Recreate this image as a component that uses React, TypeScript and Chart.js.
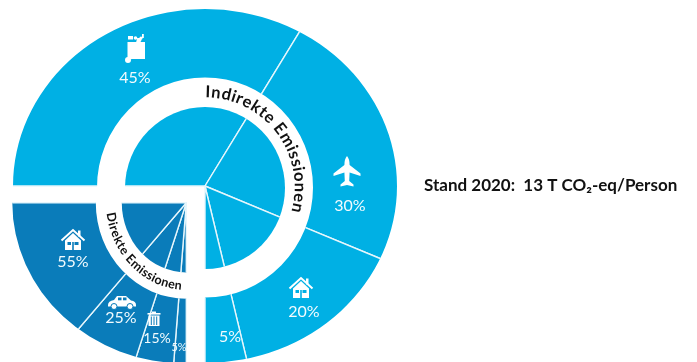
import { useEffect, useRef } from "react";
import { Chart, registerables } from "chart.js";

Chart.register(...registerables);

// Shares per sector, in percent, clockwise from each block's starting edge.
const indirectShares = [45, 30, 20, 5];
const directShares = [5, 15, 25, 55];

const indirectTitle = "Indirekte Emissionen";
const directTitle = "Direkte Emissionen";
const standLabel = "Stand 2020:  13 T CO₂-eq/Person";

const LIGHT_BLUE = "#00B0E4";
const DARK_BLUE = "#0A7CBA";
const SEPARATOR = "#E6F6FC";
const FONT = "Lato, 'Open Sans', sans-serif";

type Oval = { rx: number; ry: number; dy?: number };
type RingClip = { outer: Oval; hole?: Oval };

// Label placement for the percentage captions.
const indirectCaptions = [
  { x: 135, y: 78, size: 16 },
  { x: 350, y: 206, size: 16 },
  { x: 304, y: 312, size: 16 },
  { x: 230, y: 337, size: 16 },
];
const directCaptions = [
  { x: 179, y: 347, size: 11 },
  { x: 157, y: 338, size: 14 },
  { x: 121, y: 318, size: 16 },
  { x: 73, y: 262, size: 16 },
];

// Both rings are drawn wider than needed and trimmed to oval outlines.
function ringClipPlugin(clips: RingClip[]) {
  const oval = (ctx: CanvasRenderingContext2D, x: number, y: number, o: Oval) => {
    ctx.moveTo(x + o.rx, y + (o.dy ?? 0));
    ctx.ellipse(x, y + (o.dy ?? 0), o.rx, o.ry, 0, 0, Math.PI * 2);
  };
  return {
    id: "ringClip",
    beforeDatasetDraw(chart: any, args: any) {
      const arc = chart.getDatasetMeta(args.index).data[0];
      const clip = clips[args.index];
      const ctx = chart.ctx;
      ctx.save();
      ctx.beginPath();
      oval(ctx, arc.x, arc.y, clip.outer);
      if (clip.hole) oval(ctx, arc.x, arc.y, clip.hole);
      ctx.clip("evenodd");
    },
    afterDatasetDraw(chart: any) {
      chart.ctx.restore();
    },
  };
}

function arcText(
  ctx: CanvasRenderingContext2D,
  text: string,
  cx: number,
  cy: number,
  rx: number,
  ry: number,
  fromDeg: number,
  toDeg: number,
  font: string,
) {
  ctx.save();
  ctx.font = font;
  ctx.fillStyle = "#111";
  ctx.textAlign = "center";
  ctx.textBaseline = "middle";
  const widths = [...text].map((c) => ctx.measureText(c).width);
  const total = widths.reduce((a, b) => a + b, 0);
  let run = 0;
  [...text].forEach((c, i) => {
    const t = (run + widths[i] / 2) / total;
    run += widths[i];
    const deg = fromDeg + (toDeg - fromDeg) * t;
    const a = (deg * Math.PI) / 180;
    ctx.save();
    ctx.translate(cx + rx * Math.sin(a), cy - ry * Math.cos(a));
    ctx.rotate(toDeg > fromDeg ? a : a - Math.PI);
    ctx.fillText(c, 0, 0);
    ctx.restore();
  });
  ctx.restore();
}

function caption(ctx: CanvasRenderingContext2D, text: string, x: number, y: number, size: number) {
  ctx.font = `${size}px ${FONT}`;
  ctx.fillStyle = "#F2FBFE";
  ctx.textAlign = "center";
  ctx.textBaseline = "middle";
  ctx.fillText(text, x, y);
}

function houseIcon(ctx: CanvasRenderingContext2D, x: number, y: number, bg: string) {
  ctx.save();
  ctx.translate(x, y);
  ctx.fillStyle = "#FFF";
  ctx.strokeStyle = "#FFF";
  ctx.lineWidth = 2;
  ctx.beginPath();
  ctx.moveTo(-11.5, 0.5);
  ctx.lineTo(0, -10);
  ctx.lineTo(11.5, 0.5);
  ctx.stroke();
  ctx.fillRect(5, -9.5, 2.5, 6);
  ctx.beginPath();
  ctx.moveTo(-8, 0.5);
  ctx.lineTo(0, -7);
  ctx.lineTo(8, 0.5);
  ctx.lineTo(8, 10);
  ctx.lineTo(-8, 10);
  ctx.closePath();
  ctx.fill();
  ctx.fillStyle = bg;
  ctx.fillRect(-5.5, 2, 3.5, 3);
  ctx.fillRect(1.5, 2, 4, 3);
  ctx.fillRect(-0.8, 2, 1.6, 8);
  ctx.restore();
}

function planeIcon(ctx: CanvasRenderingContext2D, x: number, y: number) {
  ctx.save();
  ctx.translate(x, y);
  ctx.fillStyle = "#FFF";
  ctx.beginPath();
  ctx.moveTo(0, -16);
  ctx.quadraticCurveTo(2.6, -13, 2.6, -7);
  ctx.lineTo(13.5, 1.5);
  ctx.lineTo(13.5, 4);
  ctx.lineTo(2.6, 0.5);
  ctx.lineTo(2.2, 9);
  ctx.lineTo(6.5, 12.5);
  ctx.lineTo(6.5, 14.5);
  ctx.lineTo(0, 13);
  ctx.lineTo(-6.5, 14.5);
  ctx.lineTo(-6.5, 12.5);
  ctx.lineTo(-2.2, 9);
  ctx.lineTo(-2.6, 0.5);
  ctx.lineTo(-13.5, 4);
  ctx.lineTo(-13.5, 1.5);
  ctx.lineTo(-2.6, -7);
  ctx.quadraticCurveTo(-2.6, -13, 0, -16);
  ctx.closePath();
  ctx.fill();
  ctx.restore();
}

function bagIcon(ctx: CanvasRenderingContext2D, x: number, y: number) {
  ctx.save();
  ctx.translate(x, y);
  ctx.fillStyle = "#FFF";
  ctx.fillRect(-8.5, -6, 17.5, 17);
  ctx.fillRect(-8, -12, 5, 3.5);
  ctx.beginPath();
  ctx.arc(-0.5, -10, 1.8, 0, Math.PI * 2);
  ctx.arc(5, -10, 1.6, 0, Math.PI * 2);
  ctx.arc(-8, 12, 3, 0, Math.PI * 2);
  ctx.fill();
  ctx.fillRect(6, -14, 1.8, 4);
  ctx.restore();
}

function carIcon(ctx: CanvasRenderingContext2D, x: number, y: number, bg: string) {
  ctx.save();
  ctx.translate(x, y);
  ctx.fillStyle = "#FFF";
  ctx.beginPath();
  ctx.moveTo(-14, 3);
  ctx.quadraticCurveTo(-14, -1, -8, -2);
  ctx.lineTo(-5, -6);
  ctx.lineTo(4, -6);
  ctx.lineTo(9, -1.5);
  ctx.quadraticCurveTo(14, -1, 14, 3);
  ctx.lineTo(14, 4.5);
  ctx.lineTo(-14, 4.5);
  ctx.closePath();
  ctx.fill();
  ctx.fillStyle = bg;
  ctx.fillRect(-4, -4.5, 3.5, 2.8);
  ctx.fillRect(1, -4.5, 3.5, 2.8);
  ctx.strokeStyle = bg;
  ctx.lineWidth = 1;
  ctx.fillStyle = "#FFF";
  for (const wx of [-8, 8]) {
    ctx.beginPath();
    ctx.arc(wx, 4.5, 3, 0, Math.PI * 2);
    ctx.fill();
    ctx.stroke();
  }
  ctx.restore();
}

function binIcon(ctx: CanvasRenderingContext2D, x: number, y: number, bg: string) {
  ctx.save();
  ctx.translate(x, y);
  ctx.fillStyle = "#FFF";
  ctx.fillRect(-6.5, -6, 13, 1.6);
  ctx.fillRect(-2, -7.5, 4, 1.6);
  ctx.fillRect(-5.5, -3.5, 11, 10.5);
  ctx.fillStyle = bg;
  for (const rx of [-3.2, -0.5, 2.2]) ctx.fillRect(rx, -2.5, 1, 8.5);
  ctx.restore();
}

function ringData(values: number[], colour: string) {
  return {
    data: values,
    backgroundColor: colour,
    borderColor: SEPARATOR,
    borderWidth: 1.4,
  };
}

export default function App() {
  const upperRef = useRef<HTMLCanvasElement>(null);
  const lowerRef = useRef<HTMLCanvasElement>(null);

  useEffect(() => {
    const indirect = new Chart(upperRef.current!, {
      type: "doughnut",
      data: {
        datasets: [ringData(indirectShares, LIGHT_BLUE), ringData(indirectShares, LIGHT_BLUE)],
      },
      options: {
        animation: false,
        responsive: false,
        devicePixelRatio: 1,
        cutout: 0,
        rotation: -90,
        circumference: 270,
        layout: { padding: { left: 5, right: 292, top: 0, bottom: 0 } },
        plugins: { legend: { display: false }, tooltip: { enabled: false } },
      },
      plugins: [
        ringClipPlugin([
          { outer: { rx: 192, ry: 177 }, hole: { rx: 108, ry: 110, dy: 1.5 } },
          { outer: { rx: 80, ry: 81, dy: 2 } },
        ]),
        {
          id: "indirectOverlay",
          afterDraw(chart: any) {
            const ctx = chart.ctx;
            ctx.save();
            ctx.translate(0, 14);
            indirectShares.forEach((v, i) => {
              const c = indirectCaptions[i];
              caption(ctx, `${v}%`, c.x, c.y, c.size);
            });
            bagIcon(ctx, 136, 48);
            planeIcon(ctx, 347, 172);
            houseIcon(ctx, 301, 288, LIGHT_BLUE);
            arcText(ctx, indirectTitle, 205, 187, 95, 95, 0, 106, `bold 16.5px ${FONT}`);
            ctx.font = `bold 17px ${FONT}`;
            ctx.fillStyle = "#111";
            ctx.textAlign = "left";
            ctx.textBaseline = "alphabetic";
            ctx.fillText(standLabel, 424, 191);
            ctx.restore();
          },
        },
      ],
    } as any);

    const direct = new Chart(lowerRef.current!, {
      type: "doughnut",
      data: {
        datasets: [ringData(directShares, DARK_BLUE), ringData(directShares, DARK_BLUE)],
      },
      options: {
        animation: false,
        responsive: false,
        devicePixelRatio: 1,
        cutout: 0,
        rotation: 180,
        circumference: 90,
        layout: { padding: { left: 7, right: 510, top: 202, bottom: 0 } },
        plugins: { legend: { display: false }, tooltip: { enabled: false } },
      },
      plugins: [
        ringClipPlugin([
          { outer: { rx: 174, ry: 161 }, hole: { rx: 90.5, ry: 96 } },
          { outer: { rx: 64.5, ry: 69.7 } },
        ]),
        {
          id: "directOverlay",
          afterDraw(chart: any) {
            const ctx = chart.ctx;
            directShares.forEach((v, i) => {
              const c = directCaptions[i];
              caption(ctx, `${v}%`, c.x, c.y, c.size);
            });
            houseIcon(ctx, 73, 240, DARK_BLUE);
            carIcon(ctx, 122, 302, DARK_BLUE);
            binIcon(ctx, 154, 319, DARK_BLUE);
            arcText(ctx, directTitle, 187, 202, 77, 84, 263, 184, `bold 12.5px ${FONT}`);
          },
        },
      ],
    } as any);

    return () => {
      indirect.destroy();
      direct.destroy();
    };
  }, []);

  return (
    <div style={{ position: "fixed", left: 0, top: 0, width: 697, height: 362, overflow: "hidden", background: "#fff" }}>
      <canvas ref={upperRef} width={697} height={400} style={{ position: "absolute", left: 0, top: -14 }} />
      <canvas ref={lowerRef} width={697} height={382} style={{ position: "absolute", left: 0, top: 0 }} />
    </div>
  );
}
